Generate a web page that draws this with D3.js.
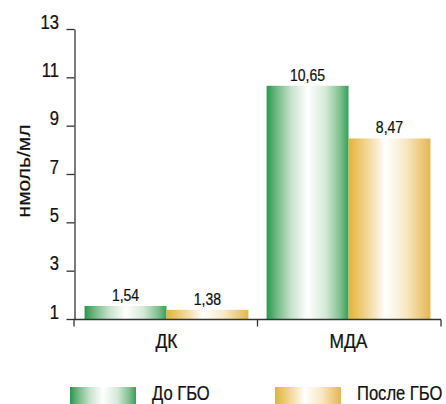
<!DOCTYPE html>
<html>
<head>
<meta charset="utf-8">
<script src="https://cdn.jsdelivr.net/npm/d3@7"></script>
<style>
  html, body { margin: 0; padding: 0; background: #fff; }
  svg { display: block; }
  text { font-family: "Liberation Sans", Arial, sans-serif; fill: #111; stroke: #111; stroke-width: 0.25px; }
</style>
</head>
<body>
<svg id="chart" width="446" height="404"></svg>
<script>
// Marker levels before and after hyperbaric oxygenation
const categories = ["ДК", "МДА"];
const seriesNames = ["До ГБО", "После ГБО"];
const beforeValues = [1.54, 10.65];
const afterValues = [1.38, 8.47];
const valueLabels = [["1,54", "10,65"], ["1,38", "8,47"]];
const yTicks = [1, 3, 5, 7, 9, 11, 13];
const yTitle = "нмоль/мл";

const seriesValues = [beforeValues, afterValues];

// horizontal squeeze that gives the regular sans a narrow look
const NARROW = 0.85;
const squeeze = (x, y) => `translate(${x},${y}) scale(${NARROW},1)`;

const svg = d3.select("#chart");

// gradient fills: dark edges fading to white in the middle
const defs = svg.append("defs");
const gradients = [
  { id: "gGreen", stops: [[0, "#28984a"], [0.12, "#6fb882"], [0.3, "#c6e2cc"], [0.5, "#ffffff"], [0.72, "#d4e9d8"], [0.9, "#7fbf8e"], [1, "#34a055"]] },
  { id: "gGold", stops: [[0, "#e2b23f"], [0.14, "#ecc970"], [0.3, "#f6e3b5"], [0.45, "#ffffff"], [0.7, "#f8e9c6"], [0.9, "#ebc777"], [1, "#e4b655"]] }
];
gradients.forEach(g => {
  const lg = defs.append("linearGradient").attr("id", g.id)
    .attr("x1", 0).attr("x2", 1).attr("y1", 0).attr("y2", 0);
  g.stops.forEach(s => lg.append("stop").attr("offset", s[0]).attr("stop-color", s[1]));
});
const fills = ["url(#gGreen)", "url(#gGold)"];

const y = d3.scaleLinear().domain([1, 13]).range([319, 29]);
const x0 = d3.scaleBand().domain(categories).range([74, 441])
  .paddingInner(0.1).paddingOuter(0.058);
const x1 = d3.scaleBand().domain(d3.range(seriesNames.length)).range([0, x0.bandwidth()]).padding(0);

// bars
const groups = svg.append("g").selectAll("g").data(categories).join("g")
  .attr("transform", c => `translate(${x0(c)},0)`);

groups.selectAll("rect")
  .data((c, ci) => seriesValues.map((vals, si) => ({ si, v: vals[ci] })))
  .join("rect")
  .attr("x", d => x1(d.si))
  .attr("width", x1.bandwidth())
  .attr("y", d => y(d.v))
  .attr("height", d => y(1) - y(d.v))
  .attr("fill", d => fills[d.si]);

groups.selectAll("text.val")
  .data((c, ci) => seriesValues.map((vals, si) => ({ si, v: vals[ci], label: valueLabels[si][ci] })))
  .join("text")
  .attr("class", "val")
  .attr("transform", d => squeeze(x1(d.si) + x1.bandwidth() / 2, y(d.v) - 5))
  .attr("text-anchor", "middle")
  .style("font-size", "16.5px")
  .text(d => d.label);

// y axis
const yAxis = svg.append("g").attr("transform", "translate(74.5,0)")
  .call(d3.axisLeft(y).tickValues(yTicks).tickSize(8).tickSizeOuter(0));
yAxis.selectAll("path, line").attr("stroke", "#333").attr("stroke-width", 1.3);
yAxis.selectAll(".tick text")
  .attr("x", 0).attr("dy", null)
  .attr("transform", squeeze(-15.5, -1))
  .style("font-size", "19.5px");

// x axis with ticks at the group boundaries
const xAxisG = svg.append("g").attr("transform", "translate(0,319.5)");
xAxisG.append("line").attr("x1", 74).attr("x2", 441).attr("stroke", "#333").attr("stroke-width", 1.3);
const boundaries = [x0.range()[0], (x0(categories[0]) + x0.bandwidth() + x0(categories[1])) / 2, x0.range()[1]];
xAxisG.selectAll("line.tk").data(boundaries).join("line").attr("class", "tk")
  .attr("x1", d => d).attr("x2", d => d).attr("y1", 0).attr("y2", 7)
  .attr("stroke", "#333").attr("stroke-width", 1.3);
xAxisG.selectAll("text").data(categories).join("text")
  .attr("transform", c => squeeze(x0(c) + x0.bandwidth() / 2, 28))
  .attr("text-anchor", "middle")
  .style("font-size", "20.5px")
  .text(c => c);

// y title, read bottom to top
svg.append("text")
  .attr("transform", `translate(30,171) rotate(-90) scale(1,${NARROW})`)
  .attr("text-anchor", "middle")
  .style("font-size", "21px")
  .text(yTitle);

// legend
const legendX = [70, 275];
const legend = svg.append("g").selectAll("g").data(seriesNames).join("g")
  .attr("transform", (d, i) => `translate(${legendX[i]},387)`);
legend.append("rect").attr("width", 66).attr("height", 17).attr("fill", (d, i) => fills[i]);
legend.append("text")
  .attr("transform", squeeze(82, 12.5))
  .style("font-size", "19.5px")
  .text(d => d);
</script>
</body>
</html>
